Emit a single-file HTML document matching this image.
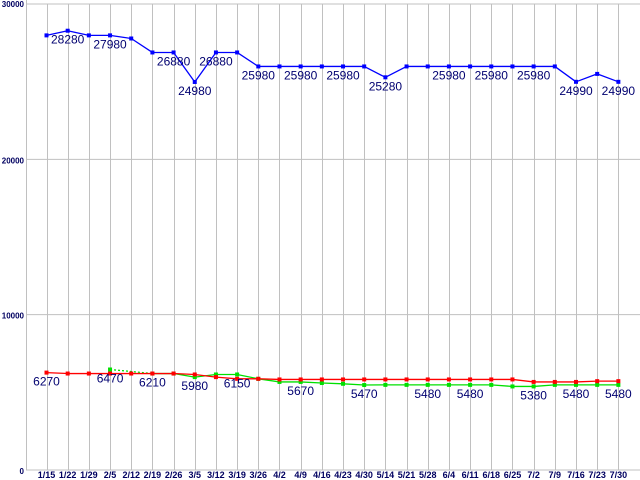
<!DOCTYPE html>
<html><head><meta charset="utf-8"><style>
body{margin:0;background:#fff}
svg{display:block;font-family:"Liberation Sans",sans-serif}
</style></head><body>
<svg id="chart" width="640" height="480" viewBox="0 0 640 480">
<g id="grid"></g>
<g id="series"></g>
<g id="labels"></g>
</svg>
<script>
const categories=["1/15","1/22","1/29","2/5","2/12","2/19","2/26","3/5","3/12","3/19","3/26","4/2","4/9","4/16","4/23","4/30","5/14","5/21","5/28","6/4","6/11","6/18","6/25","7/2","7/9","7/16","7/23","7/30"];
const blueValues=[27980,28280,27980,27980,27780,26880,26880,24980,26880,26880,25980,25980,25980,25980,25980,25980,25280,25980,25980,25980,25980,25980,25980,25980,25980,24990,25500,24990];
const redValues=[6270,6210,6210,6210,6210,6210,6210,6150,5980,5870,5870,5830,5830,5830,5830,5830,5830,5830,5830,5830,5830,5830,5830,5670,5670,5670,5720,5720];
const greenValues=[null,null,null,6470,null,6210,6210,5980,6150,6150,5870,5670,5670,5600,5550,5470,5480,5480,5480,5480,5480,5480,5380,5380,5480,5480,5480,5480];
const blueLabelIdx=[1,3,6,7,8,10,12,14,16,19,21,23,25,27];
const lowLabelIdx=[0,3,5,7,9,12,15,18,20,23,25,27];
const lowLabelValues=[6270,6470,6210,5980,6150,5670,5470,5480,5480,5380,5480,5480];
const yTicks=[0,10000,20000,30000];
const yTickLabels=["0","10000","20000","30000"];

const NS="http://www.w3.org/2000/svg";
const x0=46.5,dx=21.18,yBase=470,yTop=4,yMax=30000;
const xs=i=>x0+i*dx;
const ys=v=>yBase-(v/yMax)*(yBase-yTop);
function mk(tag,attrs,parent){const e=document.createElementNS(NS,tag);for(const k in attrs)e.setAttribute(k,attrs[k]);parent.appendChild(e);return e;}
const grid=document.getElementById('grid'),series=document.getElementById('series'),labels=document.getElementById('labels');

yTicks.forEach((t,i)=>{
  const l=mk('line',{x1:26,x2:640,y1:ys(t),y2:ys(t),stroke:'#c0c0c0'},grid);
  
  
  const tx=mk('text',{x:24,y:ys(t)+(i==yTicks.length-1?3:4),'text-anchor':'end','font-size':'8','font-weight':'bold',fill:'#000060'},grid);
  tx.textContent=yTickLabels[i];
  
  
});
const ax=mk('line',{x1:26.5,x2:26.5,y1:0,y2:470,stroke:'#c0c0c0'},grid);


categories.forEach((c,i)=>{
  const l=mk('line',{x1:Math.round(xs(i))+0.5,x2:Math.round(xs(i))+0.5,y1:4,y2:470,stroke:'#c0c0c0'},grid);
  
  
  const t=mk('text',{x:xs(i),y:478,'text-anchor':'middle','font-size':'9','font-weight':'bold',fill:'#000060'},grid);
  t.textContent=c;
  
  
});

function drawSeries(vals,color,name){
  let pts=[];
  vals.forEach((v,i)=>{if(v!=null)pts.push([xs(i),ys(v),i]);});
  for(let k=1;k<pts.length;k++){
    const a=pts[k-1],b=pts[k];
    const seg=mk('line',{x1:a[0],y1:a[1],x2:b[0],y2:b[1],stroke:color,'stroke-width':1.3},series);
    if(b[2]-a[2]>1)seg.setAttribute('stroke-dasharray','2,2');
    
    
  }
  pts.forEach(q=>{
    const r=mk('rect',{x:q[0]-2,y:q[1]-2,width:4,height:4,fill:color},series);
    
    
  });
}
drawSeries(greenValues,'#00e000','green-series');
drawSeries(redValues,'#ff0000','red-series');
drawSeries(blueValues,'#0000ff','blue-series');

blueLabelIdx.forEach(i=>{
  const t=mk('text',{x:xs(i),y:ys(blueValues[i])+13,'text-anchor':'middle','font-size':'12',fill:'#000070'},labels);
  t.textContent=blueValues[i];
  
  
});
lowLabelIdx.forEach((i,k)=>{
  const v=lowLabelValues[k];
  const t=mk('text',{x:xs(i),y:ys(v)+13,'text-anchor':'middle','font-size':'12',fill:'#000070'},labels);
  t.textContent=v;
  
  
});
</script>
</body></html>
